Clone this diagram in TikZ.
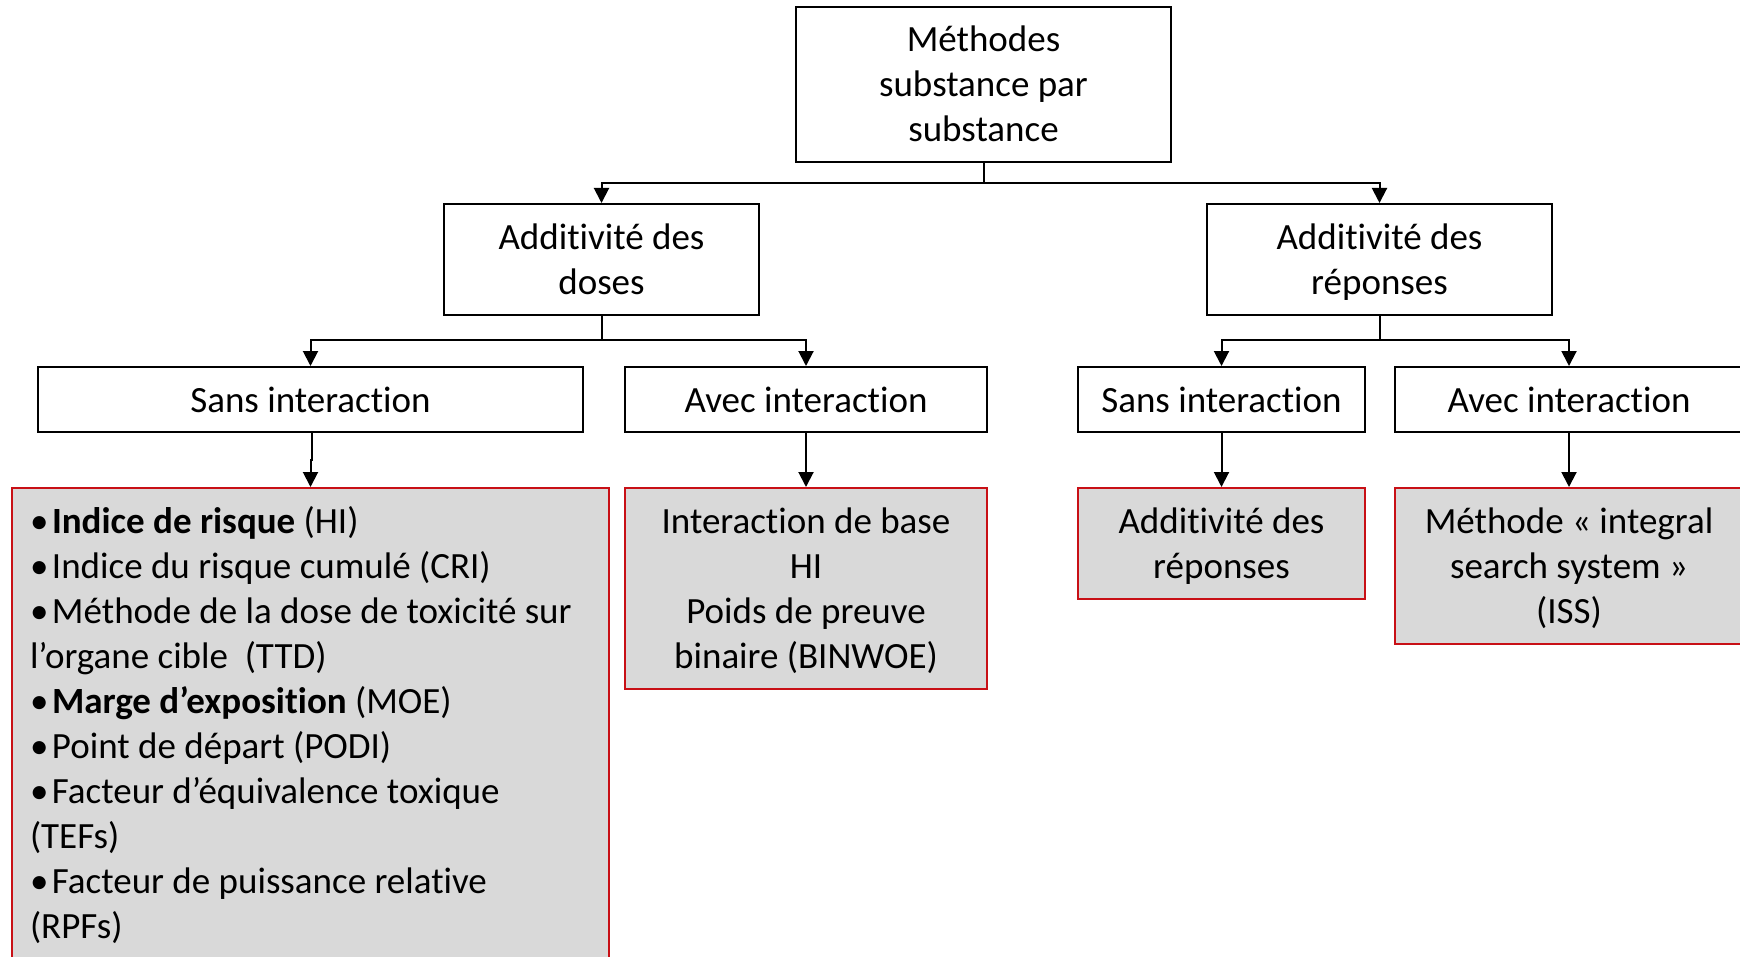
\documentclass[tikz,border=0pt]{standalone}
\usepackage{fontspec}
\setmainfont{Carlito}[Ligatures={NoCommon,NoContextual,NoRequired},Contextuals=NoAlternate]
\usetikzlibrary{arrows.meta}
\definecolor{redline}{RGB}{200,16,22}
\definecolor{graybg}{RGB}{217,217,217}
\newcommand{\Tp}{\rule{0pt}{22.5pt}}
\newcommand{\Bt}[1][10.5pt]{\rule[-#1]{0pt}{0pt}}
\begin{document}
\begin{tikzpicture}[x=0.5pt,y=-0.5pt,
  basefont/.style={font=\fontsize{18.5pt}{22.5pt}\selectfont},
  wbox/.style={basefont, draw=black, line width=1.1pt, fill=white, align=center,
    inner xsep=0pt, inner ysep=0pt, anchor=north},
  rbox/.style={basefont, draw=redline, line width=1.1pt, fill=graybg, align=center,
    inner xsep=0pt, inner ysep=0pt, anchor=north},
  conn/.style={line width=1pt},
  arr/.style={line width=1pt, -{Triangle[length=7.5pt,width=7.5pt]}}]
\useasboundingbox (0,0) rectangle (1740,957);
\clip (0,0) rectangle (1740,957);

% level 0
\node[wbox, minimum width=187.5pt] (top) at (983.5,6)
  {\rule{0pt}{22pt}Méthodes\\substance par\\substance\Bt};

% level 1
\node[wbox, minimum width=157.5pt] (doses) at (601.5,203) {\Tp Additivité des\\doses\Bt};
\node[wbox, minimum width=172.5pt] (rep) at (1379.5,203) {\Tp Additivité des\\réponses\Bt};

% level 2
\node[wbox, minimum width=272.5pt] (sansL) at (310.5,366) {\Tp Sans interaction\Bt[10pt]};
\node[wbox, minimum width=181pt] (avecL) at (806,366) {\Tp Avec interaction\Bt[10pt]};
\node[wbox, minimum width=143.5pt] (sansR) at (1221.5,366) {\Tp Sans interaction\Bt[10pt]};
\node[wbox, minimum width=174pt] (avecR) at (1569,366) {\Tp Avec interaction\Bt[10pt]};

% level 3
\node[rbox, minimum width=298.5pt, align=left] (lr) at (310.5,487)
  {\parbox[t]{280.5pt}{\raggedright
   \Tp\makebox[11pt][l]{•}\textbf{Indice de risque} (HI)\\
   \makebox[11pt][l]{•}Indice du risque cumulé (CRI)\\
   \makebox[11pt][l]{•}Méthode de la dose de toxicité sur\\
   l’organe cible~ (TTD)\\
   \makebox[11pt][l]{•}\textbf{Marge d’exposition} (MOE)\\
   \makebox[11pt][l]{•}Point de départ (PODI)\\
   \makebox[11pt][l]{•}Facteur d’équivalence toxique\\
   (TEFs)\\
   \makebox[11pt][l]{•}Facteur de puissance relative\\
   (RPFs)\Bt[24pt]}};
\node[rbox, minimum width=181pt] (mr) at (806,487)
  {\Tp Interaction de base\\HI\\Poids de preuve\\binaire (BINWOE)\Bt};
\node[rbox, minimum width=143.5pt] (r1) at (1221.5,487)
  {\Tp Additivité des\\réponses\Bt};
\node[rbox, minimum width=174pt] (r2) at (1569,487)
  {\Tp Méthode « integral\\search system »\\(ISS)\Bt};

% connectors
\coordinate (bus0) at (983.5,183);
\coordinate (busL) at (601.5,340);
\coordinate (busR) at (1379.5,340);
\coordinate (jog) at (312,460);

\draw[conn] (top.south) -- (bus0);
\draw[arr] (bus0) -| (doses.north);
\draw[arr] (bus0) -| (rep.north);

\draw[conn] (doses.south) -- (busL);
\draw[arr] (busL) -| (sansL.north);
\draw[arr] (busL) -| (avecL.north);

\draw[conn] (rep.south) -- (busR);
\draw[arr] (busR) -| (sansR.north);
\draw[arr] (busR) -| (avecR.north);

\draw[arr] ([xshift=0.75pt]sansL.south) -- ([xshift=0.75pt]sansL.south |- jog) -| (lr.north);
\draw[arr] (avecL.south) -- (mr.north);
\draw[arr] (sansR.south) -- (r1.north);
\draw[arr] (avecR.south) -- (r2.north);
\end{tikzpicture}
\end{document}
